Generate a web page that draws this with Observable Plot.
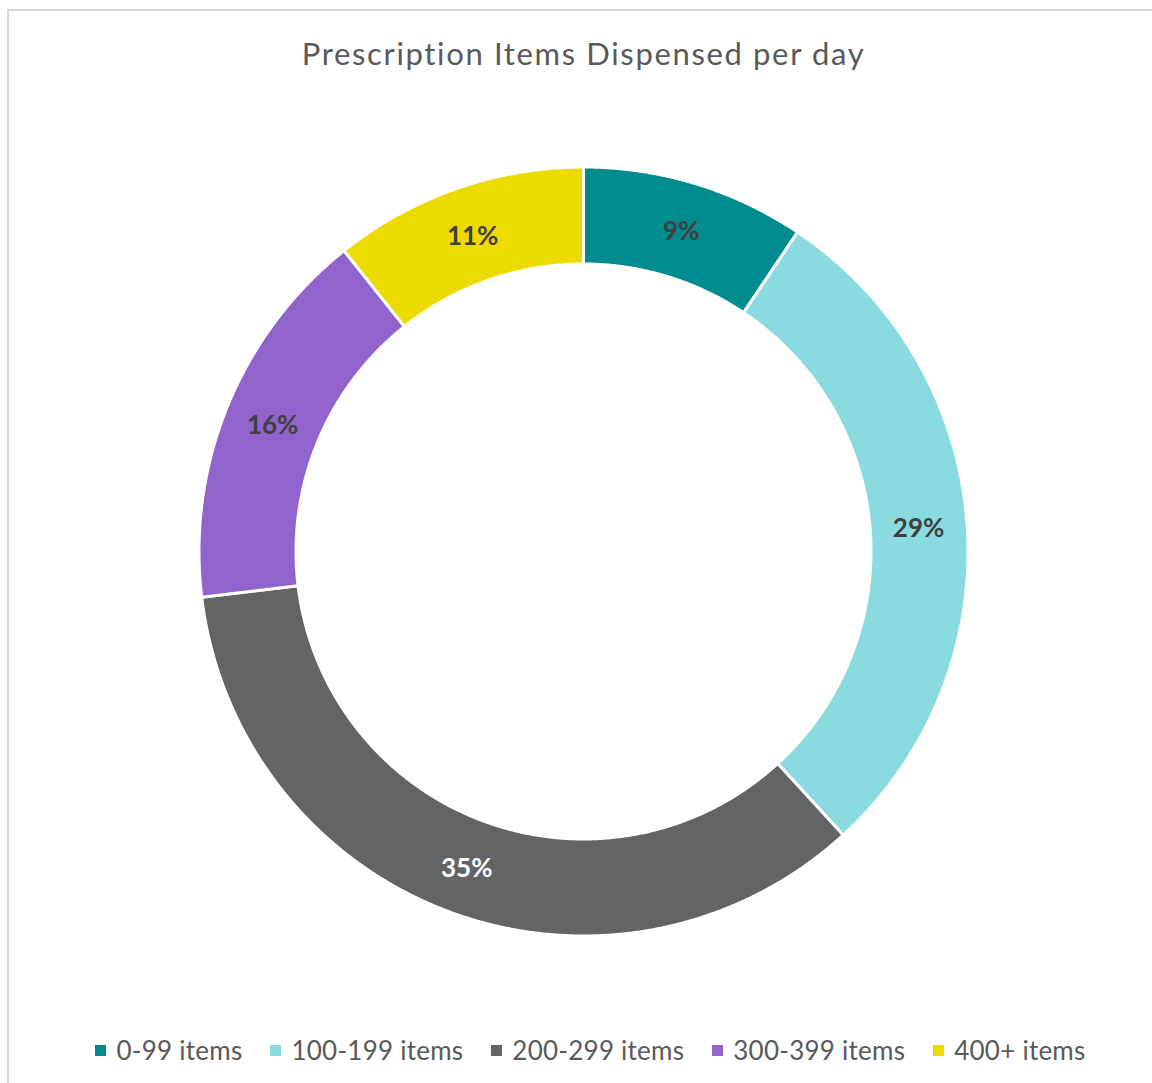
<!DOCTYPE html>
<html><head><meta charset="utf-8">
<script src="https://cdn.jsdelivr.net/npm/d3@7"></script>
<script src="https://cdn.jsdelivr.net/npm/@observablehq/plot@0.6"></script>
<style>
body{margin:0;background:#fff;font-family:Lato,"Open Sans",sans-serif;}
#wrap{position:relative;width:1152px;height:1083px;overflow:hidden;}
#frame{position:absolute;left:7px;top:9px;width:1160px;height:1100px;border:2px solid #d9d9d9;box-sizing:border-box;}
#title{position:absolute;left:7px;width:1153px;top:33px;text-align:center;font-size:31px;letter-spacing:1.65px;color:#595959;line-height:40px;}
#chart{position:absolute;left:0;top:151px;}
#legend{position:absolute;left:14px;width:1153px;top:1034px;display:flex;justify-content:center;gap:28px;font-size:26px;letter-spacing:0.25px;color:#595959;line-height:32px;}
.item{display:flex;align-items:center;}
.sw{width:11px;height:11px;margin-right:10px;}
</style></head><body>
<div id="wrap">
<div id="frame"></div>
<div id="title">Prescription Items Dispensed per day</div>
<div id="chart"></div>
<div id="legend"></div>
</div>
<script>
const categories = ["0-99 items","100-199 items","200-299 items","300-399 items","400+ items"];
const values = [9.4, 28.8, 34.9, 16.2, 10.7];
const labels = ["9%","29%","35%","16%","11%"];
const colors = ["#008B8F","#8ADBDF","#636466","#9063CD","#EDDB00"];

const R_OUT = 384.5, R_IN = 287.5, R_LAB = 336;
const arcs = d3.pie().sort(null).value(d => d)(values);

const pts = [];
arcs.forEach((a, i) => {
  const n = Math.max(2, Math.ceil((a.endAngle - a.startAngle) / 0.004));
  for (let k = 0; k <= n; k++) {
    const t = a.startAngle + (a.endAngle - a.startAngle) * k / n;
    pts.push({cat: categories[i], x: R_OUT * Math.sin(t), y: R_OUT * Math.cos(t)});
  }
  for (let k = n; k >= 0; k--) {
    const t = a.startAngle + (a.endAngle - a.startAngle) * k / n;
    pts.push({cat: categories[i], x: R_IN * Math.sin(t), y: R_IN * Math.cos(t)});
  }
});

const labs = arcs.map((a, i) => {
  const m = (a.startAngle + a.endAngle) / 2;
  return {cat: categories[i], text: labels[i], x: R_LAB * Math.sin(m), y: R_LAB * Math.cos(m)};
});

const chart = Plot.plot({
  width: 1152, height: 800, margin: 0,
  x: {domain: [-583, 569], axis: null},
  y: {domain: [-400, 400], axis: null},
  color: {domain: categories, range: colors},
  style: {background: "transparent"},
  marks: [
    Plot.line(pts, {x: "x", y: "y", z: "cat", fill: "cat", stroke: "white", strokeWidth: 3, curve: "linear-closed"}),
    Plot.text(labs.filter(d => d.cat !== "200-299 items"), {x: "x", y: "y", dy: 2, text: "text", fill: "#404040", fontSize: 26, fontWeight: "bold", fontFamily: "Lato, sans-serif"}),
    Plot.text(labs.filter(d => d.cat === "200-299 items"), {x: "x", y: "y", dy: 2, text: "text", fill: "white", fontSize: 26, fontWeight: "bold", fontFamily: "Lato, sans-serif"})
  ]
});
document.getElementById("chart").appendChild(chart);

const leg = document.getElementById("legend");
categories.forEach((c, i) => {
  const it = document.createElement("div"); it.className = "item";
  const sw = document.createElement("div"); sw.className = "sw"; sw.style.background = colors[i];
  const tx = document.createElement("span"); tx.textContent = c;
  it.appendChild(sw); it.appendChild(tx); leg.appendChild(it);
});
</script>
</body></html>
